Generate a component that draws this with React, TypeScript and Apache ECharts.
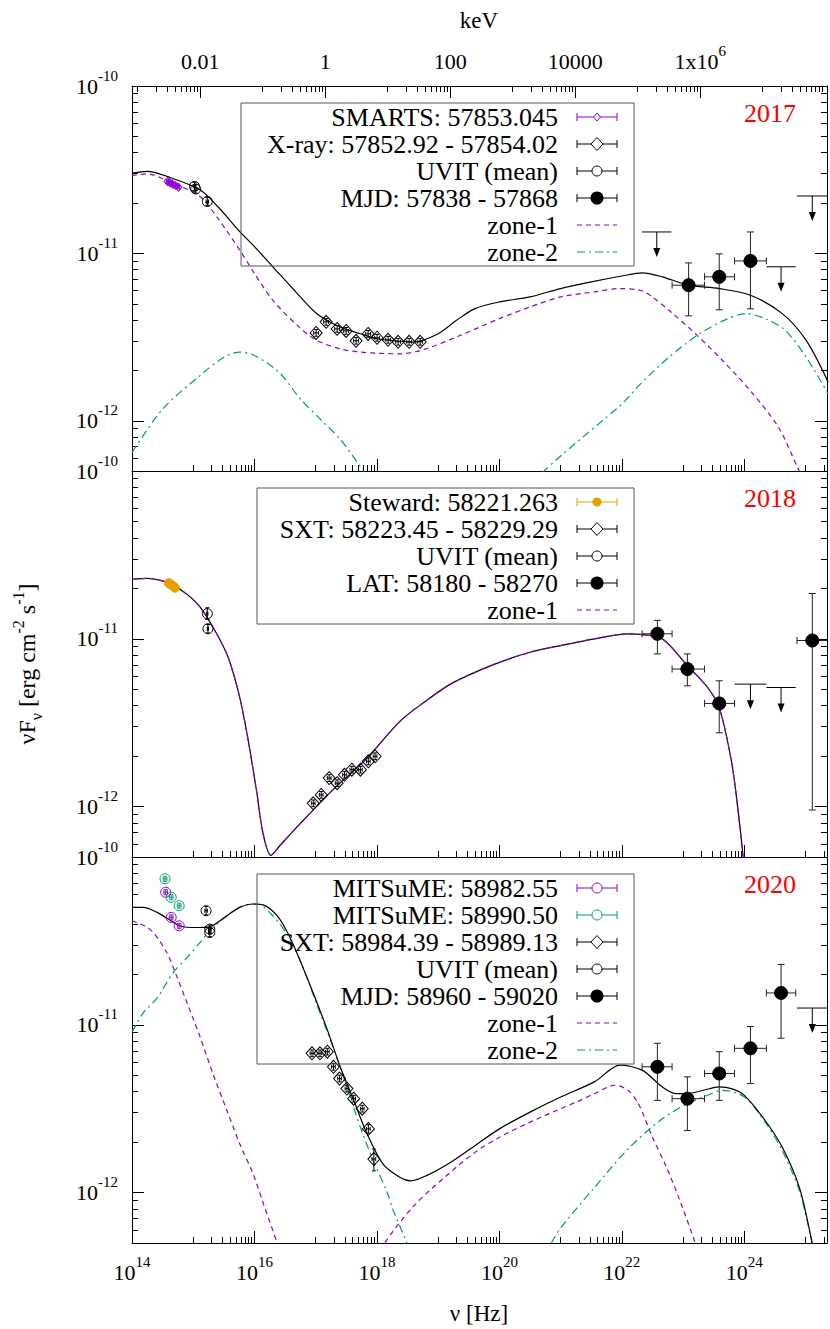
import React, { useEffect, useRef } from "react";
import * as echarts from "echarts";

type P = [number, number];
type E = [number, number, number, number, number, number];
type U = [number, number, number, number];

const FONT = "Liberation Serif, Times New Roman, serif";
const PURPLE = "#9400D3";
const GREEN = "#009E73";
const ORANGE = "#E69F00";

// axes (log10 of nu [Hz], log10 of nuFnu, log10 of keV)
const X_RANGE = [14, 25.35];
const Y_RANGE = [-12.3, -10];
const KEV_RANGE = [-3.09, 8.03];
const X_MAJOR = [14, 16, 18, 20, 22, 24];
const KEV_MAJOR = [-2, 0, 2, 4, 6];
const KEV_LABELS = ["0.01", "1", "100", "10000", "1x10^6"];
const Y_MAJOR = [-12, -11, -10];

// ---------- 2017 ----------
const total17: P[] = [[14.0,-10.52],[14.25,-10.51],[14.57,-10.54],[15.11,-10.62],[15.4,-10.72],[15.76,-10.87],[16.0,-10.96],[16.3,-11.08],[16.7,-11.24],[17.02,-11.36],[17.4,-11.44],[17.73,-11.48],[18.0,-11.51],[18.38,-11.525],[18.6,-11.53],[19.0,-11.48],[19.3,-11.40],[19.6,-11.33],[20.0,-11.29],[20.5,-11.26],[21.0,-11.21],[21.5,-11.17],[22.0,-11.135],[22.33,-11.116],[22.66,-11.14],[23.09,-11.19],[23.59,-11.21],[24.10,-11.25],[24.62,-11.36],[25.01,-11.52],[25.37,-11.77]];
const zone1_17: P[] = [[14.0,-10.535],[14.25,-10.525],[14.57,-10.565],[15.11,-10.66],[15.4,-10.79],[15.76,-10.98],[16.0,-11.12],[16.3,-11.28],[16.7,-11.43],[17.02,-11.52],[17.4,-11.57],[17.73,-11.59],[18.38,-11.60],[18.8,-11.57],[19.36,-11.49],[20.0,-11.39],[20.5,-11.32],[21.0,-11.26],[21.55,-11.23],[21.97,-11.21],[22.30,-11.22],[22.46,-11.25],[22.77,-11.34],[23.23,-11.49],[23.67,-11.65],[24.12,-11.83],[24.56,-12.04],[24.87,-12.28],[25.0,-12.38]];
const zone2a_17: P[] = [[14.0,-12.19],[14.5,-11.93],[15.11,-11.73],[15.5,-11.62],[15.76,-11.59],[16.0,-11.61],[16.4,-11.71],[16.75,-11.87],[17.1,-12.0],[17.4,-12.11],[17.8,-12.31],[17.9,-12.36]];
const zone2b_17: P[] = [[20.7,-12.31],[21.0,-12.21],[21.55,-12.04],[22.0,-11.9],[22.33,-11.77],[22.77,-11.62],[23.23,-11.49],[23.67,-11.40],[24.03,-11.36],[24.34,-11.39],[24.67,-11.46],[25.01,-11.62],[25.37,-11.84]];
const smarts17: E[] = [[14.58,-10.57,14.56,14.60,-10.58,-10.56],[14.62,-10.578,14.60,14.64,-10.588,-10.568],[14.66,-10.585,14.64,14.68,-10.595,-10.575],[14.71,-10.595,14.69,14.73,-10.605,-10.585],[14.76,-10.605,14.74,14.78,-10.615,-10.595]];
const xray17: E[] = [[17.007,-11.475,16.967,17.047,-11.495,-11.455],[17.170,-11.409,17.13,17.21,-11.429,-11.389],[17.350,-11.451,17.31,17.39,-11.471,-11.431],[17.497,-11.463,17.457,17.537,-11.483,-11.443],[17.660,-11.522,17.62,17.70,-11.542,-11.502],[17.856,-11.481,17.816,17.896,-11.501,-11.461],[18.003,-11.504,17.963,18.043,-11.524,-11.484],[18.183,-11.516,18.143,18.223,-11.536,-11.496],[18.346,-11.528,18.306,18.386,-11.548,-11.508],[18.526,-11.528,18.486,18.566,-11.548,-11.508],[18.706,-11.528,18.666,18.746,-11.548,-11.508]];
const uvit17: E[] = [[15.02,-10.60,15.0,15.04,-10.625,-10.575],[15.04,-10.615,15.02,15.06,-10.64,-10.59],[15.23,-10.69,15.21,15.25,-10.715,-10.665]];
const lat17: E[] = [[23.09,-11.19,22.82,23.35,-11.373,-11.057],[23.59,-11.14,23.35,23.84,-11.337,-11.003],[24.10,-11.045,23.84,24.36,-11.331,-10.872]];
const ul17: U[] = [[22.57,-10.872,22.33,22.81],[24.60,-11.08,24.36,24.84],[25.11,-10.657,24.86,25.36]];

// ---------- 2018 ----------
const total18: P[] = [[14.0,-10.645],[14.25,-10.64],[14.5,-10.655],[14.67,-10.68],[14.9,-10.735],[15.11,-10.81],[15.36,-10.955],[15.57,-11.11],[15.76,-11.35],[15.9,-11.61],[16.04,-11.92],[16.14,-12.16],[16.27,-12.29],[16.42,-12.23],[16.75,-12.10],[17.28,-11.90],[17.84,-11.71],[18.38,-11.49],[18.8,-11.37],[19.2,-11.27],[19.6,-11.20],[20.0,-11.14],[20.5,-11.08],[21.0,-11.04],[21.55,-11.0],[22.1,-10.97],[22.33,-10.975],[22.66,-11.0],[23.07,-11.16],[23.40,-11.29],[23.59,-11.41],[23.79,-11.73],[23.89,-12.0],[23.98,-12.3],[24.0,-12.4]];
const steward18: E[] = [[14.60,-10.668,14.59,14.61,-10.675,-10.661],[14.65,-10.68,14.64,14.66,-10.687,-10.673],[14.70,-10.695,14.69,14.71,-10.702,-10.688]];
const uvit18: E[] = [[15.23,-10.85,15.22,15.24,-10.885,-10.815],[15.24,-10.94,15.23,15.25,-10.965,-10.915]];
const sxt18: E[] = [[16.96,-11.98,16.93,16.99,-12.0,-11.96],[17.09,-11.93,17.06,17.12,-11.95,-11.91],[17.22,-11.83,17.19,17.25,-11.85,-11.81],[17.35,-11.86,17.32,17.38,-11.88,-11.84],[17.47,-11.81,17.44,17.50,-11.83,-11.79],[17.59,-11.78,17.56,17.62,-11.80,-11.76],[17.73,-11.78,17.70,17.76,-11.80,-11.76],[17.86,-11.73,17.83,17.89,-11.75,-11.71],[17.97,-11.70,17.94,18.0,-11.72,-11.68]];
const lat18: E[] = [[22.58,-10.97,22.33,22.82,-11.09,-10.89],[23.07,-11.18,22.82,23.35,-11.28,-11.09],[23.59,-11.385,23.35,23.84,-11.56,-11.25],[25.11,-11.01,24.86,25.4,-12.02,-10.73]];
const ul18: U[] = [[24.10,-11.27,23.84,24.36],[24.60,-11.29,24.36,24.84]];

// ---------- 2020 ----------
const total20: P[] = [[14.0,-10.30],[14.18,-10.30],[14.41,-10.33],[14.62,-10.376],[14.78,-10.41],[14.95,-10.42],[15.11,-10.42],[15.27,-10.415],[15.55,-10.35],[15.76,-10.30],[15.98,-10.28],[16.14,-10.285],[16.37,-10.35],[16.58,-10.48],[16.86,-10.72],[17.19,-11.03],[17.40,-11.25],[17.62,-11.45],[17.84,-11.65],[18.10,-11.83],[18.38,-11.91],[18.55,-11.93],[18.8,-11.90],[19.2,-11.82],[19.6,-11.72],[20.0,-11.62],[20.5,-11.52],[21.0,-11.43],[21.55,-11.34],[21.97,-11.24],[22.33,-11.27],[22.66,-11.37],[22.89,-11.41],[23.07,-11.41],[23.33,-11.39],[23.59,-11.37],[23.79,-11.38],[24.0,-11.42],[24.34,-11.57],[24.62,-11.73],[24.90,-11.97],[25.09,-12.27],[25.12,-12.35]];
const zone1a_20: P[] = [[14.0,-10.38],[14.2,-10.41],[14.35,-10.45],[14.57,-10.57],[14.73,-10.71],[14.90,-10.87],[15.11,-11.07],[15.32,-11.29],[15.55,-11.51],[15.76,-11.71],[15.98,-11.89],[16.14,-12.06],[16.37,-12.30],[16.45,-12.4]];
const zone1b_20: P[] = [[18.05,-12.4],[18.13,-12.30],[18.6,-12.08],[19.1,-11.91],[19.6,-11.76],[20.0,-11.67],[20.5,-11.58],[21.0,-11.50],[21.32,-11.45],[21.55,-11.41],[21.89,-11.36],[22.1,-11.39],[22.27,-11.47],[22.5,-11.67],[22.73,-11.85],[22.94,-12.04],[23.17,-12.27],[23.22,-12.33]];
const zone2a_20: P[] = [[14.0,-11.045],[14.18,-10.93],[14.41,-10.84],[14.67,-10.69],[14.90,-10.60],[15.11,-10.51],[15.27,-10.44],[15.55,-10.35],[15.81,-10.29],[16.04,-10.28],[16.30,-10.35],[16.53,-10.46],[16.75,-10.62],[17.02,-10.88],[17.29,-11.14],[17.51,-11.37],[17.73,-11.61],[17.94,-11.81],[18.17,-12.0],[18.26,-12.10],[18.49,-12.30],[18.55,-12.36]];
const zone2b_20: P[] = [[20.85,-12.30],[21.0,-12.21],[21.55,-11.97],[22.1,-11.74],[22.66,-11.56],[23.07,-11.47],[23.40,-11.42],[23.64,-11.39],[24.0,-11.43],[24.34,-11.58],[24.62,-11.75],[24.90,-11.99],[25.09,-12.27],[25.12,-12.33]];
const mits1_20: E[] = [[14.55,-10.21,14.52,14.58,-10.225,-10.195],[14.64,-10.36,14.61,14.67,-10.375,-10.345],[14.77,-10.41,14.74,14.80,-10.425,-10.395]];
const mits2_20: E[] = [[14.54,-10.13,14.51,14.57,-10.145,-10.115],[14.64,-10.24,14.61,14.67,-10.255,-10.225],[14.77,-10.29,14.74,14.80,-10.305,-10.275]];
const uvit20: E[] = [[15.21,-10.32,15.19,15.23,-10.345,-10.295],[15.27,-10.43,15.25,15.29,-10.455,-10.405],[15.27,-10.45,15.25,15.29,-10.475,-10.425]];
const sxt20: E[] = [[16.94,-11.17,16.91,16.97,-11.19,-11.15],[17.07,-11.17,17.04,17.10,-11.19,-11.15],[17.19,-11.16,17.16,17.22,-11.18,-11.14],[17.29,-11.25,17.26,17.32,-11.27,-11.23],[17.39,-11.32,17.36,17.42,-11.34,-11.30],[17.51,-11.38,17.48,17.54,-11.40,-11.36],[17.62,-11.44,17.59,17.65,-11.46,-11.42],[17.76,-11.50,17.73,17.79,-11.52,-11.48],[17.86,-11.62,17.83,17.89,-11.645,-11.595],[17.95,-11.80,17.92,17.98,-11.87,-11.74]];
const lat20: E[] = [[22.58,-11.25,22.33,22.82,-11.45,-11.11],[23.07,-11.44,22.82,23.35,-11.63,-11.31],[23.59,-11.29,23.35,23.84,-11.45,-11.16],[24.10,-11.14,23.84,24.36,-11.35,-11.01],[24.60,-10.81,24.36,24.84,-11.08,-10.64]];
const ul20: U[] = [[25.11,-10.90,24.86,25.4]];

// legend rows
const legend17 = ["SMARTS: 57853.045", "X-ray: 57852.92 - 57854.02", "UVIT (mean)", "MJD: 57838 - 57868", "zone-1", "zone-2"];
const legend18 = ["Steward: 58221.263", "SXT: 58223.45 - 58229.29", "UVIT (mean)", "LAT: 58180 - 58270", "zone-1"];
const legend20 = ["MITSuME: 58982.55", "MITSuME: 58990.50", "SXT: 58984.39 - 58989.13", "UVIT (mean)", "MJD: 58960 - 59020", "zone-1", "zone-2"];
const years = ["2017", "2018", "2020"];

const GRID_TOPS = [86, 471, 857];
const GRID_H = [385, 386, 386];

function minorTicks(decades: number[], lo: number, hi: number, ks: number[]) {
  const out: number[] = [];
  decades.forEach((d) => ks.forEach((k) => {
    const v = d + Math.log10(k);
    if (v >= lo - 1e-9 && v <= hi + 1e-9) out.push(v);
  }));
  return out;
}
const X_MINOR = minorTicks([15, 17, 19, 21, 23, 25], X_RANGE[0], X_RANGE[1], [1, 2, 3, 4, 5, 6, 7, 8, 9]);
const KEV_MINOR = minorTicks([-3, -1, 1, 3, 5, 7], KEV_RANGE[0], KEV_RANGE[1], [1, 2, 3, 4, 5, 6, 7, 8, 9]);
const Y_MINOR = minorTicks([-13, -12, -11], Y_RANGE[0], Y_RANGE[1], [2, 3, 4, 5, 6, 7, 8, 9]);

const RICH = {
  b: { fontSize: 22, fontFamily: FONT, color: "#000", lineHeight: 36 },
  s: { fontSize: 15, fontFamily: FONT, color: "#000", lineHeight: 15, verticalAlign: "top" },
};
const tickLine = { color: "#000", width: 1 };
const frameLine = { color: "#000", width: 1 };
const pow10 = (v: number) => `{b|10}{s|${Math.round(v)}}`;

function xAxesFor(gi: number, labels: boolean) {
  const base = { type: "value", gridIndex: gi, min: X_RANGE[0], max: X_RANGE[1], position: "bottom", splitLine: { show: false } };
  return [
    { ...base, axisLine: { show: true, onZero: false, lineStyle: frameLine },
      axisTick: { show: true, inside: true, length: 12, customValues: X_MAJOR, lineStyle: tickLine },
      axisLabel: labels ? { show: true, customValues: X_MAJOR, margin: 11, formatter: pow10, rich: RICH } : { show: false } },
    { ...base, axisLine: { show: false, onZero: false },
      axisTick: { show: true, inside: true, length: 6, customValues: X_MINOR, lineStyle: tickLine },
      axisLabel: { show: false } },
  ];
}
function yAxesFor(gi: number) {
  const base = { type: "value", gridIndex: gi, min: Y_RANGE[0], max: Y_RANGE[1], splitLine: { show: false } };
  return [
    { ...base, position: "left", axisLine: { show: true, onZero: false, lineStyle: frameLine },
      axisTick: { show: true, inside: true, length: 12, customValues: Y_MAJOR, lineStyle: tickLine },
      axisLabel: { show: true, customValues: Y_MAJOR, margin: 14, formatter: pow10, rich: RICH } },
    { ...base, position: "left", axisLine: { show: false, onZero: false },
      axisTick: { show: true, inside: true, length: 6, customValues: Y_MINOR, lineStyle: tickLine }, axisLabel: { show: false } },
    { ...base, position: "right", axisLine: { show: true, onZero: false, lineStyle: frameLine },
      axisTick: { show: true, inside: true, length: 12, customValues: Y_MAJOR, lineStyle: tickLine }, axisLabel: { show: false } },
    { ...base, position: "right", axisLine: { show: false, onZero: false },
      axisTick: { show: true, inside: true, length: 6, customValues: Y_MINOR, lineStyle: tickLine }, axisLabel: { show: false } },
  ];
}
const keVAxes = [
  { type: "value", gridIndex: 0, min: KEV_RANGE[0], max: KEV_RANGE[1], position: "top", splitLine: { show: false },
    axisLine: { show: true, onZero: false, lineStyle: frameLine },
    axisTick: { show: true, inside: true, length: 12, customValues: KEV_MAJOR, lineStyle: tickLine },
    axisLabel: { show: true, customValues: KEV_MAJOR, margin: 7, rich: RICH,
      formatter: (v: number) => {
        const t = KEV_LABELS[KEV_MAJOR.indexOf(Math.round(v))] || "";
        const parts = t.split("^");
        return parts.length > 1 ? `{b|${parts[0]}}{s|${parts[1]}}` : `{b|${t}}`;
      } } },
  { type: "value", gridIndex: 0, min: KEV_RANGE[0], max: KEV_RANGE[1], position: "top", splitLine: { show: false },
    axisLine: { show: false, onZero: false },
    axisTick: { show: true, inside: true, length: 6, customValues: KEV_MINOR, lineStyle: tickLine },
    axisLabel: { show: false } },
];

// ---------- series helpers ----------
const XI = (gi: number) => gi * 2;
const YI = (gi: number) => gi * 4;

function curve(gi: number, data: P[], color: string, dash: any, z = 2) {
  return { type: "line", xAxisIndex: XI(gi), yAxisIndex: YI(gi), data, showSymbol: false, symbol: "none",
    smooth: 0.3, clip: true, silent: true, z,
    lineStyle: { color, width: 1.2, type: dash } };
}
function errBars(gi: number, data: E[], color: string, cap = 3.5) {
  return { type: "custom", xAxisIndex: XI(gi), yAxisIndex: YI(gi), data, clip: true, silent: true, z: 3,
    encode: { x: 0, y: 1 },
    renderItem: (_p: any, api: any) => {
      const x = api.value(0), y = api.value(1);
      const c = api.coord([x, y]);
      const l = api.coord([api.value(2), y]), r = api.coord([api.value(3), y]);
      const b = api.coord([x, api.value(4)]), t = api.coord([x, api.value(5)]);
      const st = { stroke: color, lineWidth: 1 };
      const L = (x1: number, y1: number, x2: number, y2: number) => ({ type: "line", shape: { x1, y1, x2, y2 }, style: st });
      return { type: "group", children: [
        L(l[0], c[1], r[0], c[1]), L(l[0], c[1] - cap, l[0], c[1] + cap), L(r[0], c[1] - cap, r[0], c[1] + cap),
        L(c[0], b[1], c[0], t[1]), L(c[0] - cap, b[1], c[0] + cap, b[1]), L(c[0] - cap, t[1], c[0] + cap, t[1]),
      ] };
    } };
}
function upperLimits(gi: number, data: U[]) {
  return { type: "custom", xAxisIndex: XI(gi), yAxisIndex: YI(gi), data, clip: true, silent: true, z: 3,
    encode: { x: 0, y: 1 },
    renderItem: (_p: any, api: any) => {
      const y = api.value(1);
      const c = api.coord([api.value(0), y]);
      const l = api.coord([api.value(2), y]), r = api.coord([api.value(3), y]);
      const st = { stroke: "#000", lineWidth: 1 };
      return { type: "group", children: [
        { type: "line", shape: { x1: l[0], y1: c[1], x2: r[0], y2: c[1] }, style: st },
        { type: "line", shape: { x1: c[0], y1: c[1], x2: c[0], y2: c[1] + 17 }, style: st },
        { type: "polygon", shape: { points: [[c[0] - 3.5, c[1] + 16], [c[0] + 3.5, c[1] + 16], [c[0], c[1] + 25]] }, style: { fill: "#000" } },
      ] };
    } };
}
function marks(gi: number, data: E[], symbol: string, size: any, fill: string, stroke: string) {
  return { type: "scatter", xAxisIndex: XI(gi), yAxisIndex: YI(gi), data: data.map((d) => [d[0], d[1]]),
    symbol, symbolSize: size, silent: true, z: 4, clip: true,
    itemStyle: { color: fill, borderColor: stroke, borderWidth: 1, opacity: 1 } };
}

const DASH = [5, 4];
const DASHDOT = [8, 4, 2, 4];
const NONE = "rgba(0,0,0,0)";

const series: any[] = [
  // 2017
  curve(0, zone1_17, PURPLE, DASH), curve(0, zone2a_17, GREEN, DASHDOT), curve(0, zone2b_17, GREEN, DASHDOT),
  curve(0, total17, "#000", "solid", 2.5),
  errBars(0, smarts17, PURPLE, 2), marks(0, smarts17, "diamond", [7, 8], NONE, PURPLE),
  errBars(0, xray17, "#000", 2), marks(0, xray17, "diamond", [12, 13], NONE, "#000"),
  errBars(0, uvit17, "#000", 2), marks(0, uvit17, "circle", 10, NONE, "#000"),
  errBars(0, lat17, "#222"), marks(0, lat17, "circle", 13, "#000", "#000"),
  upperLimits(0, ul17),
  // 2018
  curve(1, total18, "#000", "solid"), curve(1, total18, PURPLE, DASH, 2.5),
  errBars(1, steward18, ORANGE, 2), marks(1, steward18, "circle", 9, ORANGE, ORANGE),
  errBars(1, sxt18, "#000", 2), marks(1, sxt18, "diamond", [12, 13], NONE, "#000"),
  errBars(1, uvit18, "#000", 2), marks(1, uvit18, "circle", 10, NONE, "#000"),
  errBars(1, lat18, "#222"), marks(1, lat18, "circle", 13, "#000", "#000"),
  upperLimits(1, ul18),
  // 2020
  curve(2, zone1a_20, PURPLE, DASH), curve(2, zone1b_20, PURPLE, DASH),
  curve(2, zone2a_20, GREEN, DASHDOT), curve(2, zone2b_20, GREEN, DASHDOT),
  curve(2, total20, "#000", "solid", 2.5),
  errBars(2, mits1_20, PURPLE, 2), marks(2, mits1_20, "circle", 10, NONE, PURPLE),
  errBars(2, mits2_20, GREEN, 2), marks(2, mits2_20, "circle", 10, NONE, GREEN),
  errBars(2, sxt20, "#000", 2), marks(2, sxt20, "diamond", [12, 13], NONE, "#000"),
  errBars(2, uvit20, "#000", 2), marks(2, uvit20, "circle", 10, NONE, "#000"),
  errBars(2, lat20, "#222"), marks(2, lat20, "circle", 13, "#000", "#000"),
  upperLimits(2, ul20),
];

// ---------- legend graphics ----------
type Sample = { kind: "err" | "line"; color: string; marker?: string; dash?: any };
const S17: Sample[] = [
  { kind: "err", color: PURPLE, marker: "diamondS" },
  { kind: "err", color: "#000", marker: "diamond" },
  { kind: "err", color: "#000", marker: "circle" },
  { kind: "err", color: "#000", marker: "dot" },
  { kind: "line", color: PURPLE, dash: DASH },
  { kind: "line", color: GREEN, dash: DASHDOT },
];
const S18: Sample[] = [
  { kind: "err", color: ORANGE, marker: "dotS" },
  { kind: "err", color: "#000", marker: "diamond" },
  { kind: "err", color: "#000", marker: "circle" },
  { kind: "err", color: "#000", marker: "dot" },
  { kind: "line", color: PURPLE, dash: DASH },
];
const S20: Sample[] = [
  { kind: "err", color: PURPLE, marker: "circle" },
  { kind: "err", color: GREEN, marker: "circle" },
  { kind: "err", color: "#000", marker: "diamond" },
  { kind: "err", color: "#000", marker: "circle" },
  { kind: "err", color: "#000", marker: "dot" },
  { kind: "line", color: PURPLE, dash: DASH },
  { kind: "line", color: GREEN, dash: DASHDOT },
];

function legendGraphics(top: number, boxLeft: number, labels: string[], samples: Sample[]) {
  const els: any[] = [];
  const first = top + 31, dy = 27;
  const boxTop = first - 14, boxBottom = first + dy * (labels.length - 1) + 14;
  els.push({ type: "rect", shape: { x: boxLeft, y: boxTop, width: 634 - boxLeft, height: boxBottom - boxTop },
    style: { fill: "none", stroke: "#555", lineWidth: 1 }, z: 10, silent: true });
  labels.forEach((lab, i) => {
    const y = first + dy * i;
    els.push({ type: "text", x: 558, y, z: 11,
      style: { text: lab, fontSize: 26, fontFamily: FONT, fill: "#000", textAlign: "right", textVerticalAlign: "middle" } });
    const s = samples[i];
    const x1 = 577, x2 = 617, cx = 597;
    if (s.kind === "line") {
      els.push({ type: "line", z: 11, shape: { x1, y1: y, x2, y2: y }, style: { stroke: s.color, lineWidth: 1.2, lineDash: s.dash } });
    } else {
      const st = { stroke: s.color, lineWidth: 1 };
      els.push({ type: "line", z: 11, shape: { x1, y1: y, x2, y2: y }, style: st });
      els.push({ type: "line", z: 11, shape: { x1, y1: y - 4, x2: x1, y2: y + 4 }, style: st });
      els.push({ type: "line", z: 11, shape: { x1: x2, y1: y - 4, x2, y2: y + 4 }, style: st });
      if (s.marker === "diamond" || s.marker === "diamondS") {
        const w = s.marker === "diamond" ? 6 : 3.5, h = s.marker === "diamond" ? 6.5 : 4;
        els.push({ type: "polygon", z: 12, shape: { points: [[cx, y - h], [cx + w, y], [cx, y + h], [cx - w, y]] },
          style: { fill: "#fff", stroke: s.color, lineWidth: 1 } });
      } else if (s.marker === "circle") {
        els.push({ type: "circle", z: 12, shape: { cx, cy: y, r: 5 }, style: { fill: "#fff", stroke: s.color, lineWidth: 1 } });
      } else if (s.marker === "dot") {
        els.push({ type: "circle", z: 12, shape: { cx, cy: y, r: 6.5 }, style: { fill: "#000" } });
      } else if (s.marker === "dotS") {
        els.push({ type: "circle", z: 12, shape: { cx, cy: y, r: 4.5 }, style: { fill: s.color } });
      }
    }
  });
  return els;
}

const graphics: any[] = [
  ...legendGraphics(GRID_TOPS[0], 241, legend17, S17),
  ...legendGraphics(GRID_TOPS[1], 257, legend18, S18),
  ...legendGraphics(GRID_TOPS[2], 257, legend20, S20),
  ...years.map((yr, i) => ({ type: "text", x: 770, y: GRID_TOPS[i] + 27, z: 11,
    style: { text: yr, fontSize: 26, fontFamily: FONT, fill: "#ff0000", textAlign: "center", textVerticalAlign: "middle" } })),
  { type: "text", x: 479, y: 20, style: { text: "keV", fontSize: 23, fontFamily: FONT, fill: "#000", textAlign: "center", textVerticalAlign: "middle" } },
  { type: "text", x: 479, y: 1313, style: { text: "ν [Hz]", fontSize: 23, fontFamily: FONT, fill: "#000", textAlign: "center", textVerticalAlign: "middle" } },
  { type: "text", x: 27, y: 664, rotation: Math.PI / 2,
    style: { text: "{a|νF}{d|ν}{a| [erg cm}{u|-2}{a| s}{u|-1}{a|]}", textAlign: "center", textVerticalAlign: "middle",
      rich: {
        a: { fontSize: 24, fontFamily: FONT, fill: "#000", lineHeight: 34 },
        u: { fontSize: 16, fontFamily: FONT, fill: "#000", lineHeight: 16, verticalAlign: "top" },
        d: { fontSize: 16, fontFamily: FONT, fill: "#000", lineHeight: 16, verticalAlign: "bottom" },
      } } },
];

const option: any = {
  animation: false,
  backgroundColor: "#fff",
  textStyle: { fontFamily: FONT },
  grid: GRID_TOPS.map((t, i) => ({ left: 132, top: t, width: 695, height: GRID_H[i], containLabel: false })),
  xAxis: [...xAxesFor(0, false), ...xAxesFor(1, false), ...xAxesFor(2, true), ...keVAxes],
  yAxis: [...yAxesFor(0), ...yAxesFor(1), ...yAxesFor(2)],
  series,
  graphic: graphics,
};

export default function App() {
  const ref = useRef<HTMLDivElement>(null);
  useEffect(() => {
    if (!ref.current) return;
    const chart = echarts.init(ref.current, undefined, { renderer: "svg" });
    chart.setOption(option);
    return () => chart.dispose();
  }, []);
  return <div ref={ref} style={{ position: "absolute", left: 0, top: 0, width: 830, height: 1329, background: "#fff" }} />;
}
